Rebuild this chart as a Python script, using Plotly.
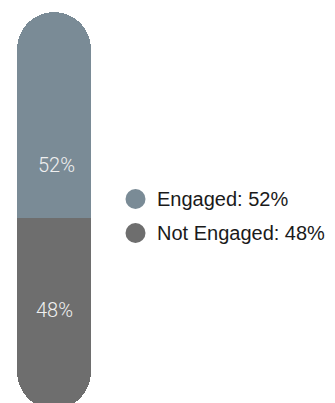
import plotly.graph_objects as go

# Engagement split, shown as one pill-shaped bar
categories = ["Engaged", "Not Engaged"]
values = [52, 48]
colors = ["#7a8b96", "#6e6e6e"]
bar_labels = [f"{v}%" for v in values]
legend_labels = [f"{c}: {v}%" for c, v in zip(categories, values)]

engaged, not_engaged = values
W, H = 335, 403

fig = go.Figure()

# Relative stacking around the split: the engaged share grows upward,
# the rest grows downward, so both outer ends get rounded caps.
fig.add_trace(go.Bar(
    x=[0], y=[engaged], width=[1],
    marker=dict(color=colors[0], line=dict(width=0)),
    name=categories[0], showlegend=False, hoverinfo="skip",
))
fig.add_trace(go.Bar(
    x=[0], y=[-not_engaged], width=[1],
    marker=dict(color=colors[1], line=dict(width=0)),
    name=categories[1], showlegend=False, hoverinfo="skip",
))

# Percentage labels inside the segments
label_pos = [(0.168, 0.5906), (0.163, 0.2308)]
for (lx, ly), txt in zip(label_pos, bar_labels):
    fig.add_annotation(
        x=lx, y=ly, xref="paper", yref="paper", text=txt, showarrow=False,
        xanchor="center", yanchor="middle",
        font=dict(family="Roboto, Liberation Sans, sans-serif", size=20,
                  color="#f0f0f0", weight=300),
    )

# Legend: circle swatches with value text
legend_rows = [199, 233]
for row_y, txt, col in zip(legend_rows, legend_labels, colors):
    yp = 1 - row_y / H
    fig.add_shape(
        type="circle", xref="paper", yref="paper",
        xsizemode="pixel", ysizemode="pixel",
        xanchor=135.5 / W, yanchor=yp,
        x0=-10, x1=10, y0=-10, y1=10,
        fillcolor=col, line=dict(width=0),
    )
    fig.add_annotation(
        x=155 / W, y=yp, xref="paper", yref="paper", text=txt, showarrow=False,
        xanchor="left", yanchor="middle",
        font=dict(family="Liberation Sans, Arial, sans-serif", size=20, color="#1a1a1a"),
    )

fig.update_layout(
    width=W, height=H,
    margin=dict(l=0, r=0, t=0, b=0),
    paper_bgcolor="white", plot_bgcolor="white",
    barmode="relative", bargap=0,
    barcornerradius="50%",
    showlegend=False,
    xaxis=dict(range=[-0.7297, 3.797], visible=False, fixedrange=True),
    yaxis=dict(range=[1.51 - not_engaged, 103.02 - not_engaged],
               visible=False, fixedrange=True),
)

fig.write_html("out.html")
